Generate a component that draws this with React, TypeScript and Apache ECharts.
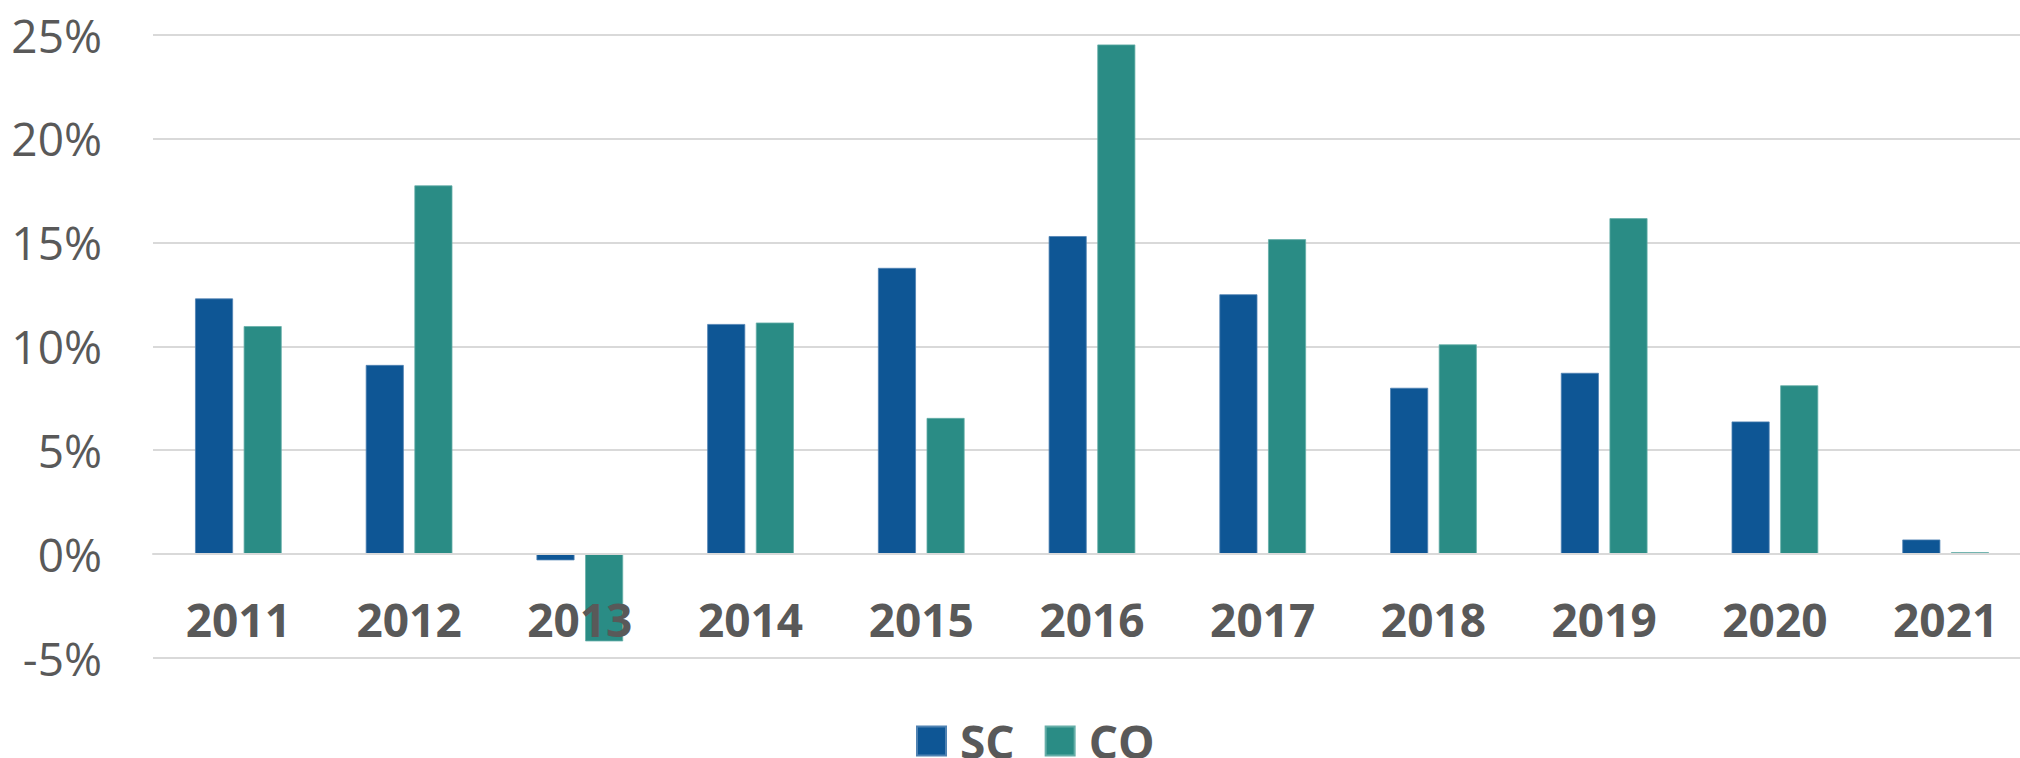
import React, { useEffect, useRef } from "react";
import * as echarts from "echarts";

const categories = ["2011", "2012", "2013", "2014", "2015", "2016", "2017", "2018", "2019", "2020", "2021"];
const scValues = [12.3, 9.1, -0.3, 11.07, 13.77, 15.3, 12.5, 8.0, 8.72, 6.38, 0.7];
const coValues = [10.97, 17.74, -4.2, 11.14, 6.55, 24.52, 15.15, 10.09, 16.16, 8.12, 0.09];
const seriesNames = ["SC", "CO"];
const yMin = -5;
const yMax = 25;
const yInterval = 5;

const SC_COLOR = "#0E5695";
const CO_COLOR = "#2A8C85";
const TEXT_COLOR = "#595959";
const GRID_COLOR = "#D9D9D9";
const FONT = "'Open Sans', 'Noto Sans', sans-serif";

export default function App() {
  const ref = useRef<HTMLDivElement>(null);
  useEffect(() => {
    if (!ref.current) return;
    const chart = echarts.init(ref.current, undefined, { renderer: "svg" });
    chart.setOption({
      animation: false,
      backgroundColor: "#ffffff",
      grid: { left: 153, right: 0, top: 34.5, bottom: 100, containLabel: false },
      legend: {
        data: seriesNames,
        left: 916,
        top: 718,
        padding: 0,
        itemWidth: 29,
        itemHeight: 29,
        itemGap: 30,
        icon: "rect",
        textStyle: {
          fontFamily: FONT,
          fontSize: 46,
          fontWeight: "bold",
          color: TEXT_COLOR,
          padding: [0, 0, 0, 9],
        },
      },
      xAxis: {
        type: "category",
        data: categories,
        z: 10,
        position: "bottom",
        offset: -104,
        axisLine: { show: true, onZero: false, lineStyle: { color: GRID_COLOR, width: 2 } },
        axisTick: { show: false },
        axisLabel: {
          margin: 42,
          fontFamily: FONT,
          fontSize: 46,
          fontWeight: "bold",
          color: TEXT_COLOR,
        },
        splitLine: { show: false },
      },
      yAxis: {
        type: "value",
        min: yMin,
        max: yMax,
        interval: yInterval,
        axisLine: { show: false },
        axisTick: { show: false },
        axisLabel: {
          margin: 51,
          fontFamily: FONT,
          fontSize: 46,
          color: TEXT_COLOR,
          formatter: (v: number) => `${v}%`,
        },
        splitLine: { show: true, lineStyle: { color: GRID_COLOR, width: 2 } },
      },
      series: [
        {
          name: seriesNames[0],
          type: "bar",
          data: scValues,
          barWidth: 38,
          barGap: "28%",
          itemStyle: { color: SC_COLOR, borderColor: "#4F82B2", borderWidth: 0.8 },
        },
        {
          name: seriesNames[1],
          type: "bar",
          data: coValues,
          barWidth: 38,
          barGap: "28%",
          itemStyle: { color: CO_COLOR, borderColor: "#66AEA8", borderWidth: 0.8 },
        },
      ],
    });
    return () => chart.dispose();
  }, []);
  return (
    <div
      style={{ position: "fixed", left: 0, top: 0, width: 2020, height: 758, overflow: "hidden" }}
    >
      <div ref={ref} style={{ width: 2031, height: 758 }} />
    </div>
  );
}
